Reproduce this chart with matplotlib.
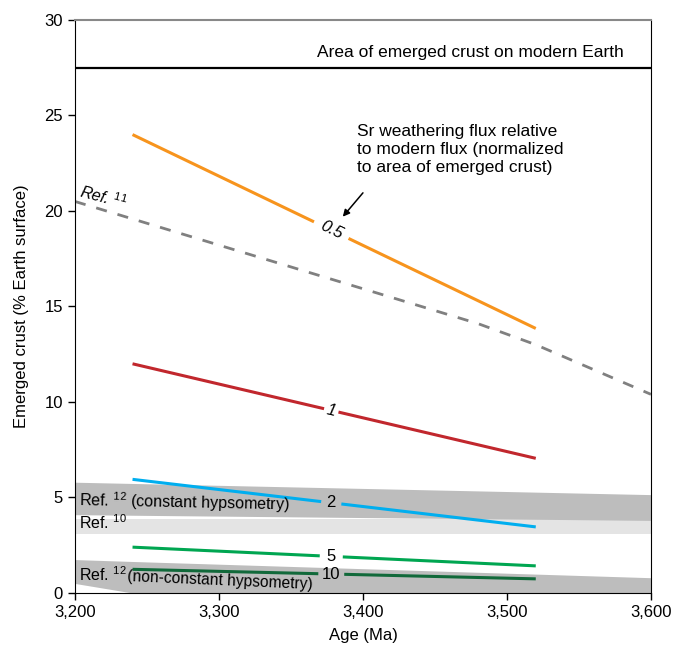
"""
Emerged crust vs age: Sr weathering flux contours and literature estimates.
"""

import numpy as np
import matplotlib.pyplot as plt
from matplotlib.ticker import FuncFormatter

plt.rcParams["font.family"] = ["Liberation Sans", "DejaVu Sans"]
plt.rcParams["mathtext.fontset"] = "custom"
plt.rcParams["mathtext.rm"] = "Liberation Sans"
plt.rcParams["mathtext.it"] = "Liberation Sans:italic"

# Flux contours (age in Ma, emerged crust in %)
flux_age = [3240, 3520]
flux_levels = ["0.5", "1", "2", "5", "10"]
flux_values = {
    "0.5": [24.0, 13.85],
    "1": [12.0, 7.05],
    "2": [5.95, 3.46],
    "5": [2.40, 1.42],
    "10": [1.24, 0.74],
}
flux_colors = {
    "0.5": "#F7941D",
    "1": "#C1272D",
    "2": "#00AEEF",
    "5": "#00A651",
    "10": "#11693A",
}
label_age = 3378

# Ref. 11 (dashed)
ref11_age = [3200, 3480, 3520, 3600]
ref11_crust = [20.5, 14.1, 13.0, 10.4]

# Ref. 12 constant hypsometry band
band_age = [3200, 3600]
ref12c_top = [5.8, 5.15]
ref12c_bot = [4.1, 3.8]
# Ref. 10 band
ref10_top = [3.85, 3.85]
ref10_bot = [3.1, 3.1]
# Ref. 12 non-constant hypsometry band
ref12n_age = [3200, 3240, 3600]
ref12n_top = [1.75, 1.65, 0.8]
ref12n_bot = [0.5, 0.0, 0.0]

modern_crust = 27.5

fig = plt.figure(figsize=(6.75, 6.49), dpi=100)
ax = fig.add_axes([0.111, 0.0863, 0.8534, 0.8829])

# bands
ax.fill_between(band_age, ref10_bot, ref10_top, color="#E4E4E4", lw=0, zorder=1)
ax.fill_between(band_age, ref12c_bot, ref12c_top, color="#BDBDBD", lw=0, zorder=1)
ax.fill_between(ref12n_age, ref12n_bot, ref12n_top, color="#BDBDBD", lw=0, zorder=1)

ax.text(3203, 4.75, "Ref. $^{12}$ (constant hypsometry)", fontsize=11.5,
        va="center", ha="left", rotation=-1.2, zorder=3)
ax.text(3203, 3.7, "Ref. $^{10}$", fontsize=11.5, va="center", ha="left", zorder=3)
ax.text(3203, 0.95, "Ref. $^{12}$", fontsize=11.5, va="center", ha="left", zorder=3)
ax.text(3236, 0.66, "(non-constant hypsometry)", fontsize=11.2, va="center",
        ha="left", rotation=-2.5, zorder=3)

# Ref. 11 dashed curve
ax.plot(ref11_age, ref11_crust, color="#808080", lw=2, linestyle=(0, (4, 4)), zorder=2)
ax.text(3202, 19.95, "Ref. $^{\\mathit{11}}$", fontsize=11.5, style="italic",
        rotation=-15, ha="left", va="bottom", zorder=3)

# flux contours, broken at the labels
gaps = {"0.5": 12, "1": 5, "2": 7, "5": 8, "10": 9}
for lev in flux_levels:
    vals = flux_values[lev]
    g = gaps[lev]
    for xa, xb in [(flux_age[0], label_age - g), (label_age + g, flux_age[1])]:
        xs = np.array([xa, xb])
        ax.plot(xs, np.interp(xs, flux_age, vals), color=flux_colors[lev],
                lw=2.2, solid_capstyle="butt", zorder=2)
    y_lab = np.interp(label_age, flux_age, vals)
    if lev in ("0.5", "1"):
        rot = -26 if lev == "0.5" else -13
        ax.text(label_age, y_lab, lev, fontsize=12, style="italic", rotation=rot,
                ha="center", va="center", zorder=3)
    else:
        ax.text(label_age, y_lab, lev, fontsize=12, ha="center", va="center", zorder=3)

# modern Earth
ax.axhline(modern_crust, color="black", lw=1.6, zorder=2)
ax.text(3368, 28.3, "Area of emerged crust on modern Earth", fontsize=12.5,
        ha="left", va="center")

ax.text(3396, 24.55, "Sr weathering flux relative\nto modern flux (normalized\nto area of emerged crust)",
        fontsize=12.5, ha="left", va="top", linespacing=1.25)
ax.annotate("", xy=(3386, 19.7), xytext=(3400, 20.95),
            arrowprops=dict(arrowstyle="-|>", color="black", lw=1.1,
                            shrinkA=0, shrinkB=0, mutation_scale=10))

ax.set_xlim(3200, 3600)
ax.set_ylim(0, 30)
ax.set_xticks([3200, 3300, 3400, 3500, 3600])
ax.set_yticks([0, 5, 10, 15, 20, 25, 30])
ax.xaxis.set_major_formatter(FuncFormatter(lambda v, p: f"{int(v):,}"))
ax.tick_params(direction="out", length=5, width=1, labelsize=12)
ax.spines["top"].set_color("#888888")
ax.spines["top"].set_linewidth(1.5)
ax.set_xlabel("Age (Ma)", fontsize=12, labelpad=6)
ax.set_ylabel("Emerged crust (% Earth surface)", fontsize=12, labelpad=11)

plt.savefig("out.png", dpi=100)
plt.close()
